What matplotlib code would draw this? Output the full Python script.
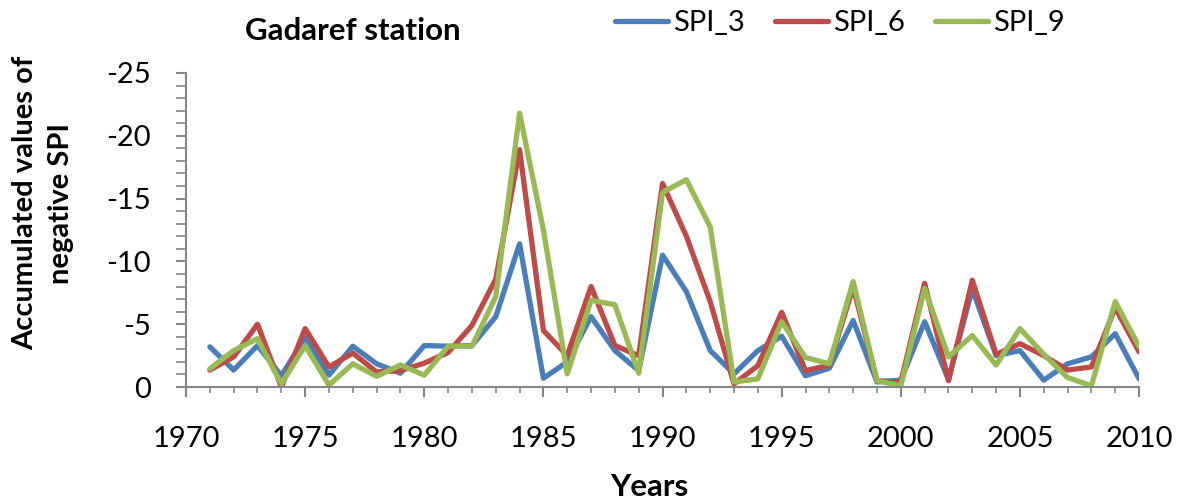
import matplotlib
matplotlib.use("Agg")
import matplotlib.pyplot as plt
from matplotlib.ticker import MultipleLocator

plt.rcParams['font.family'] = ['Lato', 'DejaVu Sans']
plt.rcParams['axes.unicode_minus'] = False

years = list(range(1971, 2011))
spi_3 = [-3.2, -1.35, -3.3, -0.9, -3.95, -0.95, -3.25, -1.85, -1.1, -3.3,
         -3.25, -3.3, -5.6, -11.4, -0.7, -2.0, -5.6, -2.9, -1.3, -10.5,
         -7.6, -2.9, -1.05, -2.9, -4.05, -0.9, -1.5, -5.3, -0.4, -0.55,
         -5.2, -0.6, -7.8, -2.5, -2.9, -0.55, -1.85, -2.4, -4.25, -0.65]
spi_6 = [-1.35, -2.4, -5.0, 0.0, -4.65, -1.6, -2.7, -1.2, -1.3, -1.9,
         -2.75, -4.9, -8.6, -18.9, -4.5, -2.5, -8.0, -3.3, -2.5, -16.2,
         -12.0, -6.8, -0.25, -1.7, -5.95, -1.3, -1.75, -7.95, -0.5, -0.4,
         -8.25, -0.5, -8.5, -2.6, -3.45, -2.5, -1.35, -1.6, -6.3, -2.8]
spi_9 = [-1.45, -2.9, -3.85, -0.25, -3.3, -0.15, -1.85, -0.85, -1.75, -0.95,
         -3.25, -3.25, -7.2, -21.8, -12.5, -1.05, -6.9, -6.55, -1.1, -15.5,
         -16.5, -12.75, -0.4, -0.65, -5.2, -2.35, -1.85, -8.4, -0.5, -0.1,
         -7.85, -2.4, -4.1, -1.75, -4.65, -2.6, -0.75, -0.1, -6.8, -3.2]

series = [("SPI_3", spi_3, "#4A7EBB"), ("SPI_6", spi_6, "#BE4B48"), ("SPI_9", spi_9, "#98B954")]

fig = plt.figure(figsize=(11.81, 5.04), dpi=100)
ax = fig.add_axes([0.1575, 0.2321, 0.807, 0.6231])

for name, vals, col in series:
    ax.plot(years, vals, color=col, lw=3.8, label=name, solid_joinstyle='round', solid_capstyle='round')

ax.set_xlim(1970, 2010)
ax.set_ylim(0, -25)
ax.xaxis.set_major_locator(MultipleLocator(5))
ax.xaxis.set_minor_locator(MultipleLocator(1))
ax.yaxis.set_major_locator(MultipleLocator(5))
ax.yaxis.set_minor_locator(MultipleLocator(1))

for s in ['top', 'right']:
    ax.spines[s].set_visible(False)
for s in ['left', 'bottom']:
    ax.spines[s].set_color('#868686')
    ax.spines[s].set_linewidth(1.5)

ax.tick_params(axis='x', which='major', length=7.2, width=1.5, color='#868686', labelsize=21, pad=21)
ax.tick_params(axis='x', which='minor', length=4.3, width=1.2, color='#868686')
ax.tick_params(axis='y', which='major', length=7.2, width=1.5, color='#868686', labelsize=21, pad=18)
ax.tick_params(axis='y', which='minor', length=7.2, width=1.2, color='#868686')
ax.set_yticks([0, -5, -10, -15, -20, -25])
ax.set_yticklabels(['0', '-5', '-10', '-15', '-20', '-25'])

fig.text(0.550, 0.0149, "Years", ha='center', va='baseline', fontsize=22.5, fontweight='bold')
fig.text(0.0364, 0.597, "Accumulated values of\nnegative SPI", rotation=90, ha='center', va='center',
         fontsize=21, fontweight='bold', linespacing=1.45)
fig.text(0.299, 0.9206, "Gadaref station", ha='center', va='baseline', fontsize=22.5, fontweight='bold')

fig.legend(loc='center', bbox_to_anchor=(0.711, 0.954), ncol=3, frameon=False, fontsize=21,
           handlelength=1.82, handletextpad=0.17, columnspacing=1.03)

fig.savefig("out.png", dpi=100)
